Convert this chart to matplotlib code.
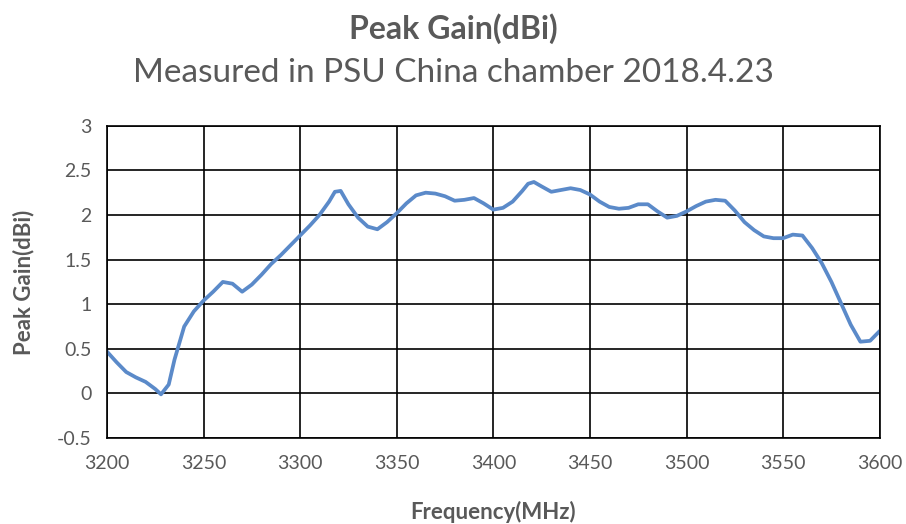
import numpy as np
import matplotlib.pyplot as plt

## data
freq = [3200, 3205, 3210, 3215, 3220, 3225, 3228, 3232, 3235, 3240, 3245, 3250,
        3255, 3260, 3265, 3270, 3275, 3280, 3285, 3290, 3295, 3300, 3305, 3310,
        3315, 3318, 3321, 3325, 3330, 3335, 3340, 3345, 3350, 3355, 3360, 3365, 3370,
        3375, 3380, 3385, 3390, 3395, 3400, 3405, 3410, 3415, 3418, 3421, 3425, 3430,
        3435, 3440, 3445, 3450, 3455, 3460, 3465, 3470, 3475, 3480, 3485, 3490,
        3495, 3500, 3505, 3510, 3515, 3520, 3525, 3530, 3535, 3540, 3545, 3550,
        3555, 3560, 3565, 3570, 3575, 3580, 3585, 3590, 3595, 3600]
gain = [0.47, 0.35, 0.24, 0.18, 0.13, 0.05, -0.01, 0.10, 0.38, 0.75, 0.92, 1.04,
        1.14, 1.25, 1.23, 1.14, 1.22, 1.33, 1.45, 1.55, 1.66, 1.77, 1.88, 2.00,
        2.15, 2.26, 2.27, 2.12, 1.97, 1.87, 1.84, 1.92, 2.02, 2.13, 2.22, 2.25, 2.24,
        2.21, 2.16, 2.17, 2.19, 2.13, 2.06, 2.08, 2.15, 2.27, 2.35, 2.37, 2.32, 2.26,
        2.28, 2.30, 2.28, 2.23, 2.15, 2.09, 2.07, 2.08, 2.12, 2.12, 2.04, 1.97,
        1.99, 2.04, 2.10, 2.15, 2.17, 2.16, 2.05, 1.92, 1.83, 1.76, 1.74, 1.74,
        1.78, 1.77, 1.63, 1.46, 1.25, 1.01, 0.77, 0.58, 0.59, 0.70]
xticks = [3200, 3250, 3300, 3350, 3400, 3450, 3500, 3550, 3600]
yticks = [-0.5, 0, 0.5, 1, 1.5, 2, 2.5, 3]
ytick_labels = ['-0.5', '0', '0.5', '1', '1.5', '2', '2.5', '3']

plt.rcParams['font.family'] = ['Lato', 'DejaVu Sans']
gray = '#595959'

fig = plt.figure(figsize=(9.06, 5.24), dpi=100)
ax = fig.add_axes([0.118, 0.164, 0.853, 0.596])

ax.plot(freq, gain, color='#5B8AC9', lw=2.7, solid_joinstyle='round', solid_capstyle='round')

ax.set_xlim(3200, 3600)
ax.set_ylim(-0.5, 3)
ax.set_xticks(xticks)
ax.set_yticks(yticks)
ax.set_yticklabels(ytick_labels)
ax.grid(True, color='black', lw=1.2)
ax.set_axisbelow(True)
for s in ax.spines.values():
    s.set_color('black')
    s.set_linewidth(1.2)
ax.tick_params(length=0, labelsize=14, labelcolor=gray)
ax.tick_params(axis='x', pad=12)
ax.tick_params(axis='y', pad=11)

ax.set_xlabel('Frequency(MHz)', fontsize=16, fontweight='bold', color=gray, labelpad=21)
ax.set_ylabel('Peak Gain(dBi)', fontsize=16, fontweight='bold', color=gray, labelpad=16)

fig.text(0.5, 0.945, 'Peak Gain(dBi)', ha='center', va='center', fontsize=23,
         fontweight='bold', color=gray)
fig.text(0.5, 0.86, 'Measured in PSU China chamber 2018.4.23', ha='center', va='center',
         fontsize=24, color=gray)

plt.savefig('out.png', dpi=100)
